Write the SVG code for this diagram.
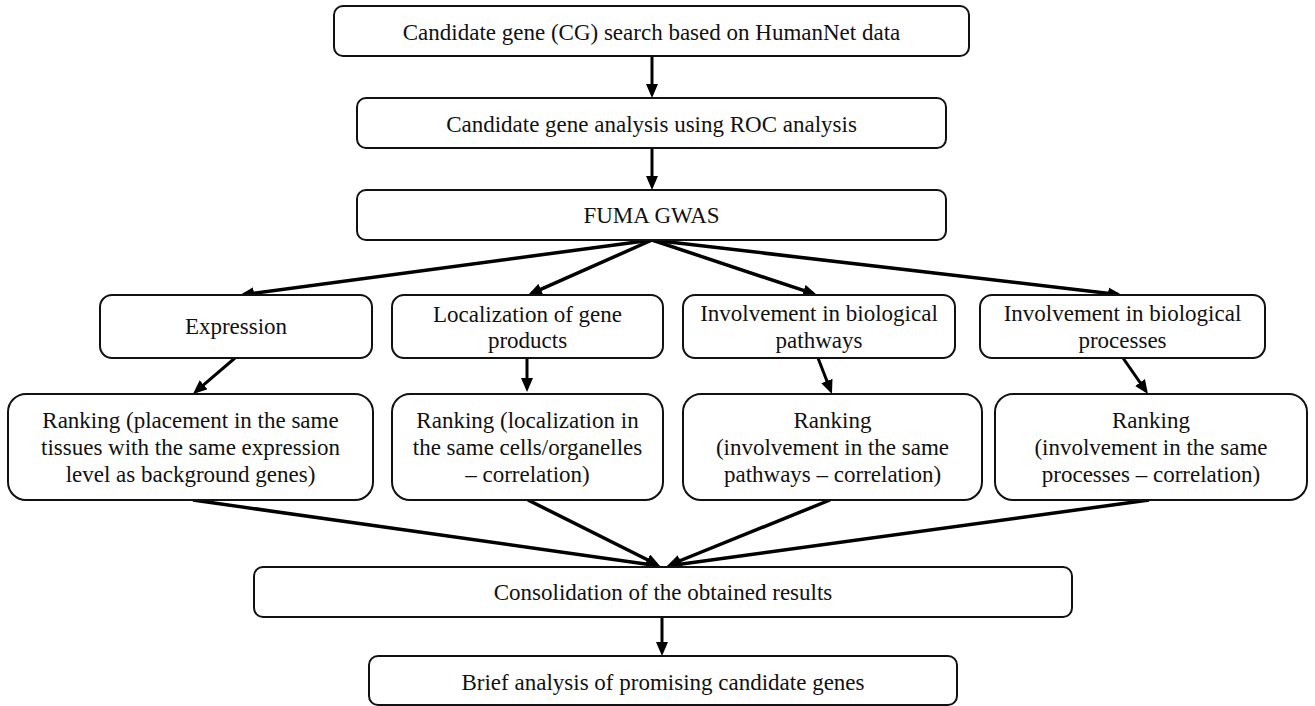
<svg xmlns="http://www.w3.org/2000/svg" width="1315" height="706" viewBox="0 0 1315 706">
<defs>
<style>
.box{fill:#fff;stroke:#111;stroke-width:2}
.t{font-family:"Liberation Serif","Times New Roman",serif;font-size:23px;fill:#111;text-anchor:middle}
.c{stroke:#000;stroke-width:3.5;fill:none;marker-end:url(#ah)}
.cv{stroke:#000;stroke-width:3;fill:none;marker-end:url(#ah)}
</style>
<marker id="ah" markerUnits="userSpaceOnUse" markerWidth="14" markerHeight="12" viewBox="0 0 14 12" refX="10" refY="6" orient="auto">
<path d="M0,0 L14,6 L0,12 z" fill="#000"/>
</marker>
</defs>
<rect width="1315" height="706" fill="#fff"/>
<g id="connectors">
<line class="cv" x1="652" y1="56" x2="652" y2="94"/>
<line class="cv" x1="652" y1="148" x2="652" y2="186"/>
<line class="c" x1="652" y1="240" x2="244" y2="294.5"/>
<line class="c" x1="652" y1="240" x2="531.7" y2="293.4"/>
<line class="c" x1="652" y1="240" x2="813.2" y2="293.7"/>
<line class="c" x1="652" y1="240" x2="1118" y2="294.5"/>
<line class="cv" x1="235" y1="358" x2="196" y2="391.4"/>
<line class="cv" x1="527" y1="359" x2="527" y2="388"/>
<line class="cv" x1="818" y1="358" x2="830.5" y2="390.3"/>
<line class="cv" x1="1123" y1="358" x2="1145.7" y2="390.7"/>
<line class="c" x1="193" y1="500" x2="656" y2="565.4"/>
<line class="c" x1="528" y1="500" x2="656.4" y2="564.2"/>
<line class="c" x1="830" y1="500" x2="670.7" y2="564.5"/>
<line class="c" x1="1149" y1="500" x2="671" y2="565.5"/>
<line class="cv" x1="662" y1="617" x2="662" y2="652"/>
</g>
<g id="n1"><rect class="box" x="334" y="6" width="635" height="50" rx="9"/><text class="t" x="651.5" y="40">Candidate gene (CG) search based on HumanNet data</text></g>
<g id="n2"><rect class="box" x="357" y="98" width="589" height="50" rx="9"/><text class="t" x="651.5" y="132">Candidate gene analysis using ROC analysis</text></g>
<g id="n3"><rect class="box" x="357" y="190" width="589" height="50" rx="9"/><text class="t" x="651.5" y="223">FUMA GWAS</text></g>
<g id="n4"><rect class="box" x="100" y="295" width="272" height="63" rx="12"/><text class="t" x="236" y="334">Expression</text></g>
<g id="n5"><rect class="box" x="392" y="295" width="271" height="63" rx="12"/><text class="t" x="527.5" y="322">Localization of gene</text><text class="t" x="527.5" y="348">products</text></g>
<g id="n6"><rect class="box" x="683" y="295" width="272" height="63" rx="12"/><text class="t" x="819" y="321">Involvement in biological</text><text class="t" x="819" y="348">pathways</text></g>
<g id="n7"><rect class="box" x="980" y="295" width="285" height="63" rx="12"/><text class="t" x="1122.5" y="321">Involvement in biological</text><text class="t" x="1122.5" y="348">processes</text></g>
<g id="n8"><rect class="box" x="8" y="394" width="365" height="106" rx="18"/><text class="t" x="190.5" y="428">Ranking (placement in the same</text><text class="t" x="190.5" y="455">tissues with the same expression</text><text class="t" x="190.5" y="482">level as background genes)</text></g>
<g id="n9"><rect class="box" x="392" y="394" width="271" height="106" rx="18"/><text class="t" x="527.5" y="428">Ranking (localization in</text><text class="t" x="527.5" y="455">the same cells/organelles</text><text class="t" x="527.5" y="482">– correlation)</text></g>
<g id="n10"><rect class="box" x="683" y="394" width="299" height="106" rx="18"/><text class="t" x="832.5" y="428">Ranking</text><text class="t" x="832.5" y="455">(involvement in the same</text><text class="t" x="832.5" y="482">pathways – correlation)</text></g>
<g id="n11"><rect class="box" x="995" y="394" width="312" height="106" rx="18"/><text class="t" x="1151" y="428">Ranking</text><text class="t" x="1151" y="455">(involvement in the same</text><text class="t" x="1151" y="482">processes – correlation)</text></g>
<g id="n12"><rect class="box" x="254" y="567" width="818" height="50" rx="9"/><text class="t" x="663" y="600">Consolidation of the obtained results</text></g>
<g id="n13"><rect class="box" x="369" y="656" width="588" height="49" rx="9"/><text class="t" x="663" y="690">Brief analysis of promising candidate genes</text></g>
</svg>
